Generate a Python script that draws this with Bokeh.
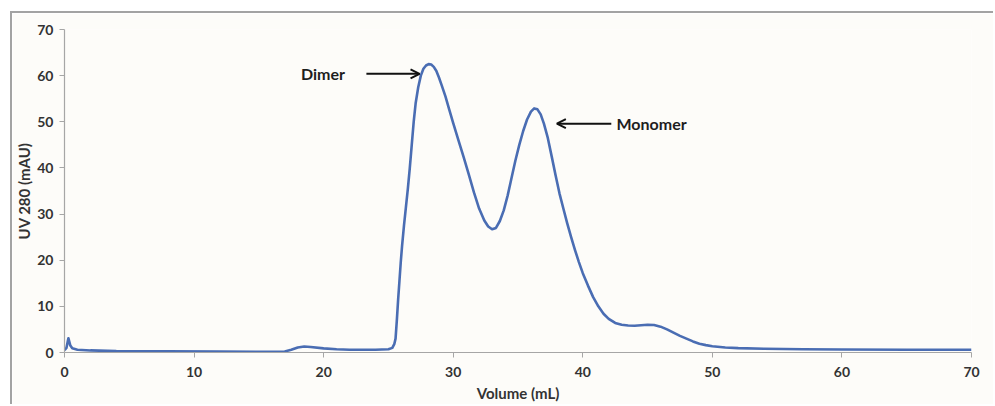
from bokeh.plotting import figure
from bokeh.models import Range1d, Arrow, OpenHead, ColumnDataSource
from bokeh.core.properties import value
from bokeh.embed import file_html
from bokeh.resources import INLINE

# Size-exclusion chromatogram: UV absorbance at 280 nm versus elution volume
volume_ml = [0.0, 0.15, 0.3, 0.45, 0.6, 1.0, 2.0, 4.0, 8.0, 12.0, 16.0, 17.0, 17.5,
             18.0, 18.5, 19.0, 20.0, 21.0, 22.0, 24.0, 25.0, 25.3, 25.45, 25.55, 25.65,
             25.75, 25.85, 25.95, 26.05, 26.2, 26.35, 26.5, 26.65, 26.8, 26.95, 27.1,
             27.3, 27.5, 27.7, 27.9, 28.1, 28.3, 28.5, 28.7, 28.9, 29.1, 29.4, 29.7,
             30.0, 30.4, 30.8, 31.2, 31.6, 32.0, 32.4, 32.7, 33.0, 33.3, 33.6, 33.9,
             34.2, 34.5, 34.8, 35.1, 35.4, 35.7, 36.0, 36.25, 36.5, 36.75, 37.0, 37.3,
             37.6, 37.9, 38.2, 38.5, 38.8, 39.1, 39.4, 39.7, 40.0, 40.4, 40.8, 41.2,
             41.6, 42.0, 42.5, 43.0, 43.5, 44.0, 44.5, 45.0, 45.5, 46.0, 46.5, 47.0,
             47.5, 48.0, 48.5, 49.0, 49.5, 50.0, 51.0, 52.0, 54.0, 57.0, 60.0, 65.0,
             70.0]
uv280_mau = [0.5, 1.0, 3.1, 1.5, 0.9, 0.6, 0.45, 0.3, 0.25, 0.2, 0.15, 0.2, 0.6,
             1.1, 1.3, 1.2, 0.9, 0.7, 0.6, 0.6, 0.7, 1.0, 1.8, 3.0, 7.0,
             11.5, 15.5, 19.5, 23.0, 27.5, 31.5, 35.5, 40.0, 45.0, 50.0, 54.0,
             57.5, 60.0, 61.5, 62.2, 62.5, 62.4, 61.9, 61.0, 59.6, 58.0, 55.5, 52.6,
             49.7, 46.0, 42.4, 38.6, 34.7, 31.2, 28.6, 27.3, 26.7, 27.0, 28.5, 30.8,
             34.0, 37.8, 41.6, 45.0, 48.0, 50.5, 52.2, 52.9, 52.7, 51.6, 49.6, 46.5,
             42.5, 38.4, 34.5, 31.2, 28.0, 25.0, 22.2, 19.6, 17.2, 14.5, 12.0, 10.0,
             8.4, 7.3, 6.4, 6.0, 5.85, 5.8, 5.9, 6.0, 5.95, 5.6, 5.0, 4.3,
             3.6, 3.0, 2.4, 1.9, 1.6, 1.35, 1.1, 0.95, 0.8, 0.7, 0.65, 0.6,
             0.6]

# Peak annotations: label, label position, arrow tail and head
peak_labels = ["Dimer", "Monomer"]
label_x = [18.25, 42.6]
label_y = [60.4, 49.6]
arrow_tail_x = [23.3, 42.2]
arrow_head_x = [27.4, 38.0]
arrow_y = [60.4, 49.6]

x_ticks = [0, 10, 20, 30, 40, 50, 60, 70]
y_ticks = [0, 10, 20, 30, 40, 50, 60, 70]

FONT = "Lato"
BG = "#fdfcf9"
AXIS_GREY = "#a6a6a6"
LABEL_GREY = "#333333"
BORDER = "2px solid #a3a3a3"

p = figure(width=983, height=393, output_backend="svg", toolbar_location=None,
           x_range=Range1d(0, 70), y_range=Range1d(0, 70),
           min_border_left=44, min_border_right=24, min_border_top=16,
           min_border_bottom=54)
p.margin = (11, 0, 0, 10)
p.styles = {"border-top": BORDER, "border-left": BORDER}
p.background_fill_color = BG
p.border_fill_color = BG
p.outline_line_color = None
p.grid.visible = False

p.line(volume_ml, uv280_mau, line_color="#4a6db3", line_width=2.6, line_join="round")

for ax, ticks in ((p.xaxis[0], x_ticks), (p.yaxis[0], y_ticks)):
    ax.ticker = ticks
    ax.axis_line_color = AXIS_GREY
    ax.axis_line_width = 1.2
    ax.major_tick_line_color = AXIS_GREY
    ax.major_tick_in = 0
    ax.major_tick_out = 5
    ax.minor_tick_line_color = None
    ax.major_label_text_font = FONT
    ax.major_label_text_font_style = "bold"
    ax.major_label_text_font_size = "14px"
    ax.major_label_text_color = LABEL_GREY
    ax.axis_label_text_font = FONT
    ax.axis_label_text_font_style = "bold"
    ax.axis_label_text_font_size = "15px"
    ax.axis_label_text_color = LABEL_GREY

p.xaxis.axis_label = "Volume (mL)"
p.xaxis.major_label_standoff = 9
p.xaxis.axis_label_standoff = 4
p.yaxis.axis_label = "UV 280 (mAU)"
p.yaxis.major_label_standoff = 6
p.yaxis.axis_label_standoff = 1

src = ColumnDataSource(dict(x=label_x, y=label_y, t=peak_labels))
p.text(x="x", y="y", text="t", source=src, text_font=value(FONT),
       text_font_style="bold", text_font_size="16px", text_color="#1e1e1e",
       text_baseline="middle", text_align="left")

for x0, x1, yy in zip(arrow_tail_x, arrow_head_x, arrow_y):
    p.add_layout(Arrow(x_start=x0, y_start=yy, x_end=x1, y_end=yy,
                       line_color="#111111", line_width=2,
                       end=OpenHead(size=9, line_color="#111111", line_width=2)))

open("out.html", "w").write(file_html(p, INLINE))
